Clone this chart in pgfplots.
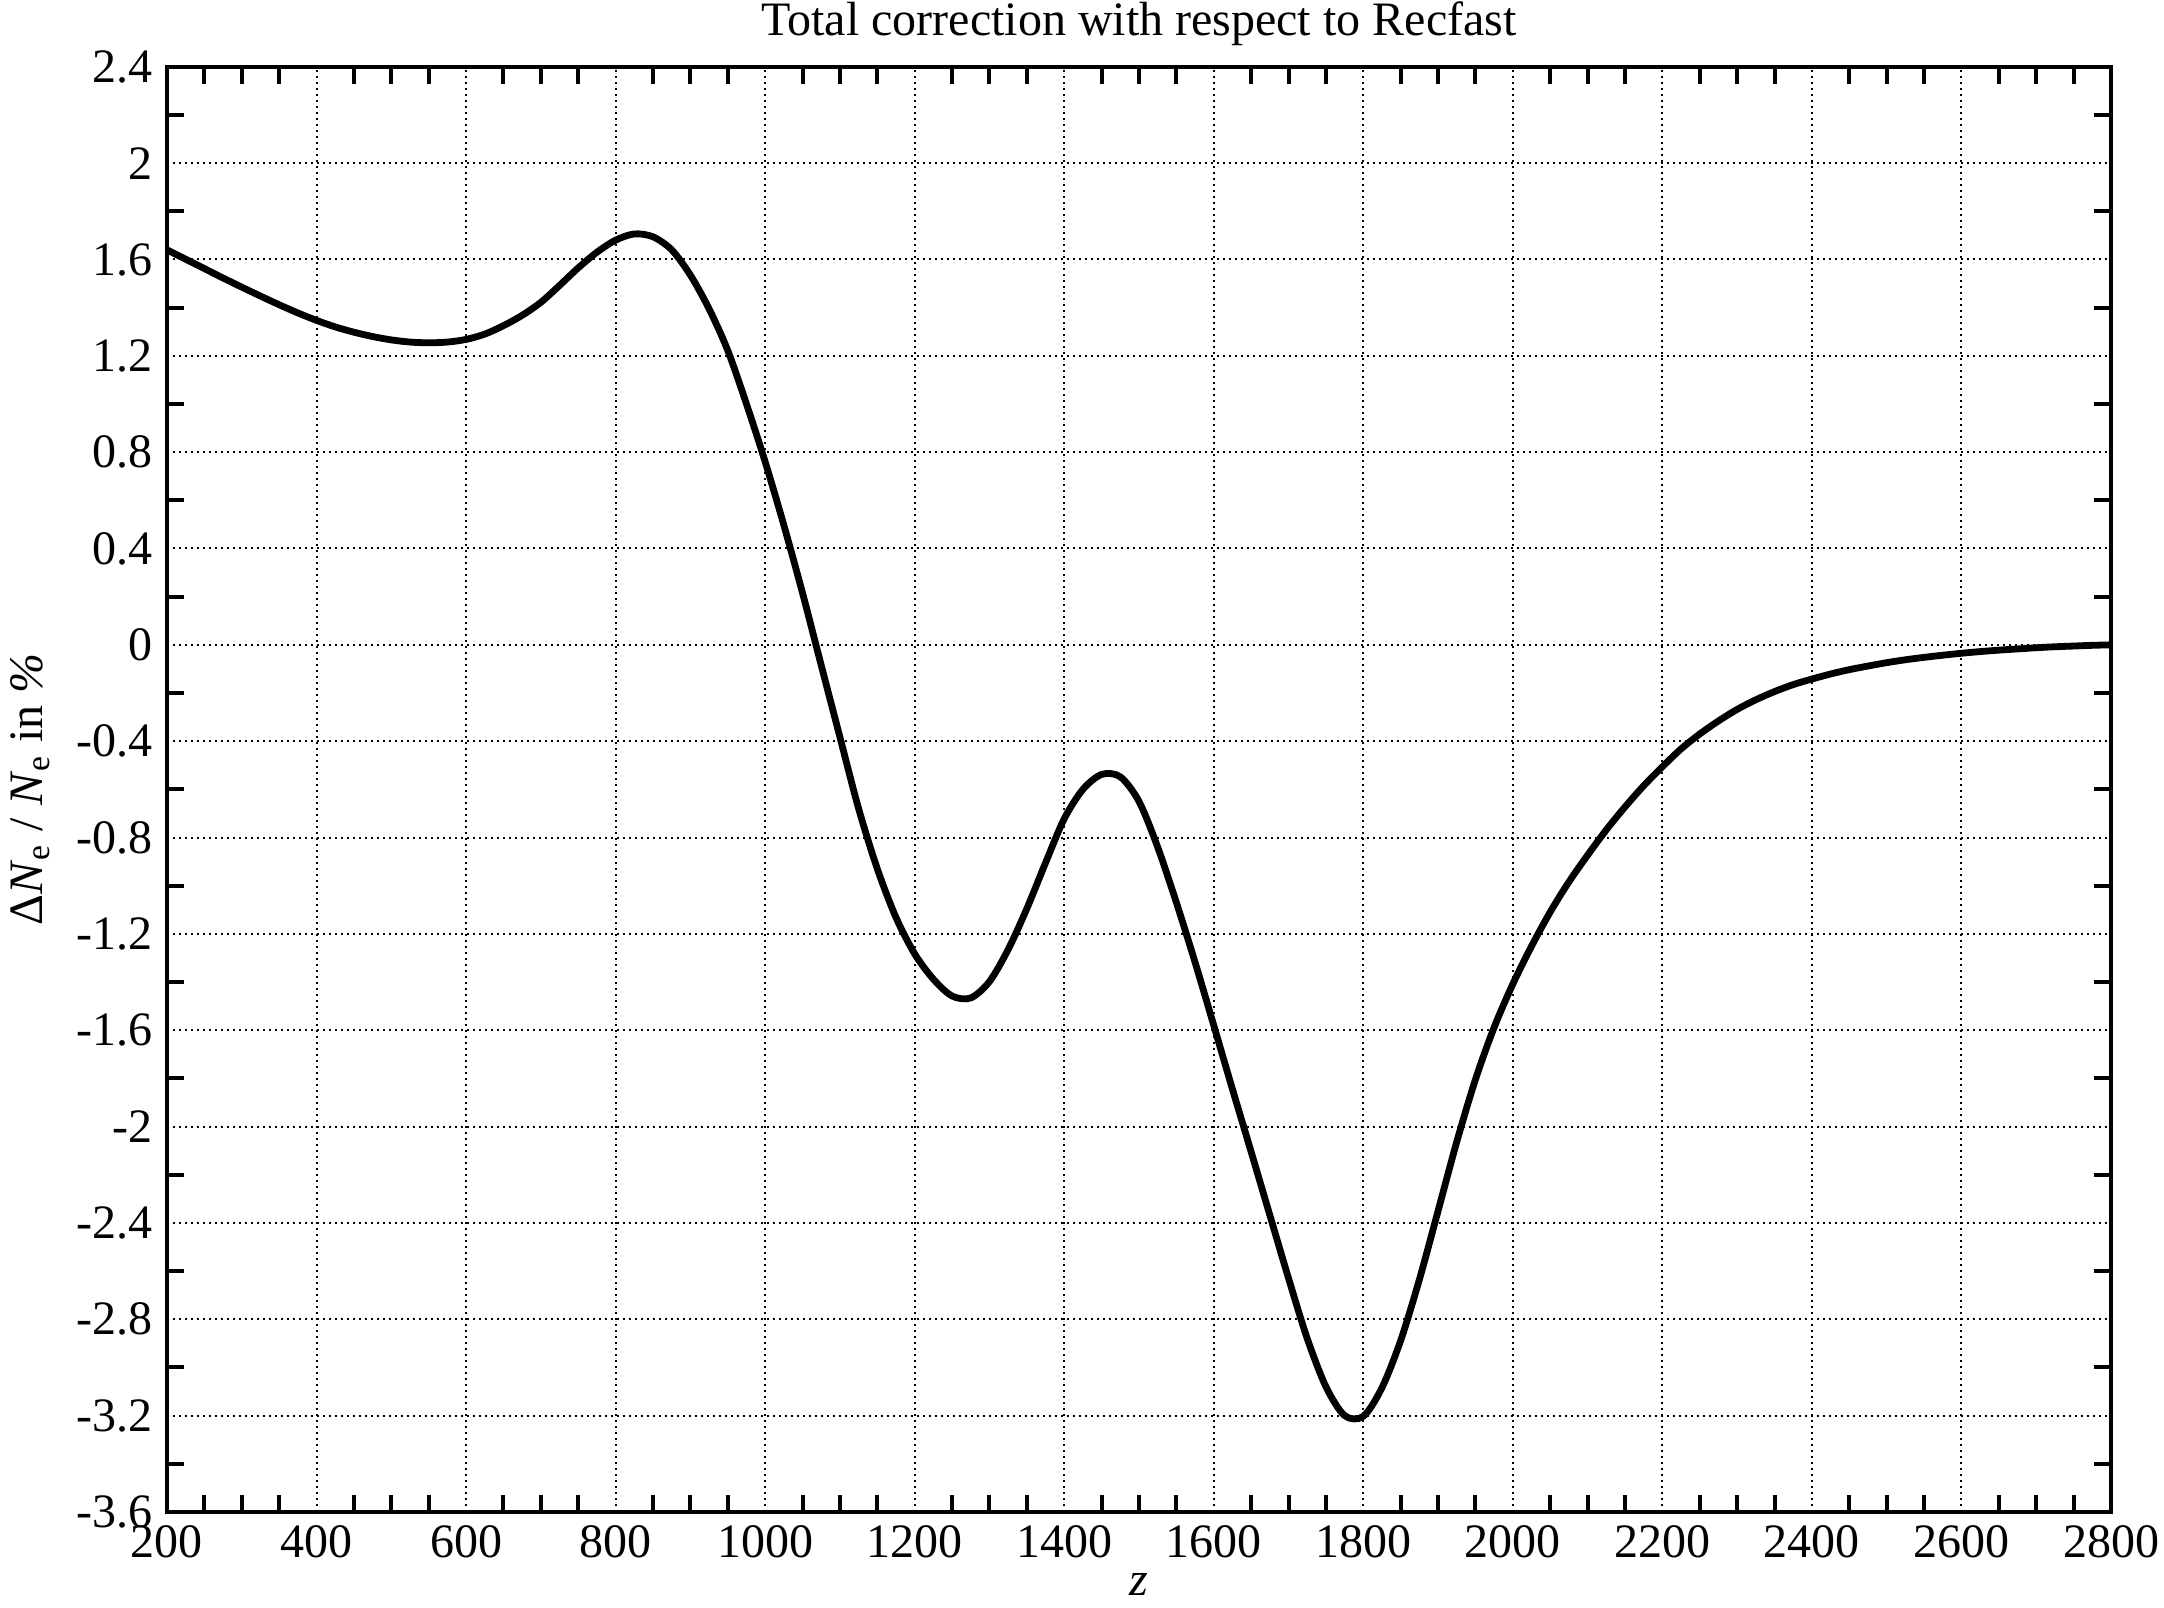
\documentclass[border=0pt]{standalone}
\usepackage{fontspec}
\setmainfont{Liberation Serif}
\usepackage{pgfplots}
\pgfplotsset{compat=1.18}
\begin{document}
\begin{tikzpicture}[font=\fontsize{12bp}{14bp}\selectfont]
\begin{axis}[
  scale only axis, width=486bp, height=361.3bp,
  xmin=200, xmax=2800, ymin=-3.6, ymax=2.4,
  xtick={200,400,...,2800},
  ytick={-3.6,-3.2,-2.8,-2.4,-2,-1.6,-1.2,-0.8,-0.4,0,0.4,0.8,1.2,1.6,2,2.4},
  minor x tick num=3, minor y tick num=1,
  major tick length=0pt, minor tick length=4.3bp,
  tick style={black, line width=1bp},
  axis line style={line width=1bp},
  grid=major,
  major grid style={black, line width=0.5bp, dash pattern=on 0.6bp off 0.9bp},
  /pgf/number format/assume math mode=true,
  /pgf/number format/1000 sep={},
  yticklabel style={/pgf/number format/fixed, /pgf/number format/precision=1},
  title={Total correction with respect to Recfast},
  every axis title/.style={at={(0.5,1)}, anchor=base, yshift=7.9bp},
  xlabel={\textit{z}},
  ylabel={Δ\textit{N}\textsubscript{e} / \textit{N}\textsubscript{e} in \textit{\%}},
  xlabel style={yshift=3bp},
]
\addplot[black, line width=1.7bp, smooth] table {
200 1.640
225 1.601
250 1.562
275 1.523
300 1.485
325 1.448
350 1.412
375 1.378
400 1.347
425 1.320
450 1.298
475 1.280
500 1.266
525 1.257
550 1.254
575 1.257
600 1.268
625 1.290
650 1.325
675 1.368
700 1.422
725 1.492
750 1.565
775 1.630
800 1.680
825 1.706
850 1.694
875 1.640
900 1.535
925 1.395
950 1.222
975 1.000
1000 0.760
1025 0.497
1050 0.215
1075 -0.085
1100 -0.383
1125 -0.680
1150 -0.930
1175 -1.132
1200 -1.283
1225 -1.388
1250 -1.458
1275 -1.466
1300 -1.398
1325 -1.265
1350 -1.095
1375 -0.905
1400 -0.722
1425 -0.600
1450 -0.538
1475 -0.548
1500 -0.650
1525 -0.840
1550 -1.070
1575 -1.318
1600 -1.580
1625 -1.845
1650 -2.105
1675 -2.368
1700 -2.630
1725 -2.880
1750 -3.080
1775 -3.200
1800 -3.203
1825 -3.084
1850 -2.888
1875 -2.635
1900 -2.350
1925 -2.063
1950 -1.804
1975 -1.588
2000 -1.408
2025 -1.251
2050 -1.109
2075 -0.984
2100 -0.873
2125 -0.768
2150 -0.673
2175 -0.585
2200 -0.506
2225 -0.432
2250 -0.370
2275 -0.316
2300 -0.268
2325 -0.228
2350 -0.194
2375 -0.165
2400 -0.142
2425 -0.121
2450 -0.103
2475 -0.088
2500 -0.074
2525 -0.062
2550 -0.052
2575 -0.043
2600 -0.035
2625 -0.028
2650 -0.022
2675 -0.017
2700 -0.012
2725 -0.008
2750 -0.005
2775 -0.002
2800 0.000
};
\end{axis}
\pgfresetboundingbox
\path ([xshift=-41.75bp,yshift=-24bp]current axis.south west) rectangle ([xshift=13.25bp,yshift=16.7bp]current axis.north east);
\end{tikzpicture}
\end{document}
